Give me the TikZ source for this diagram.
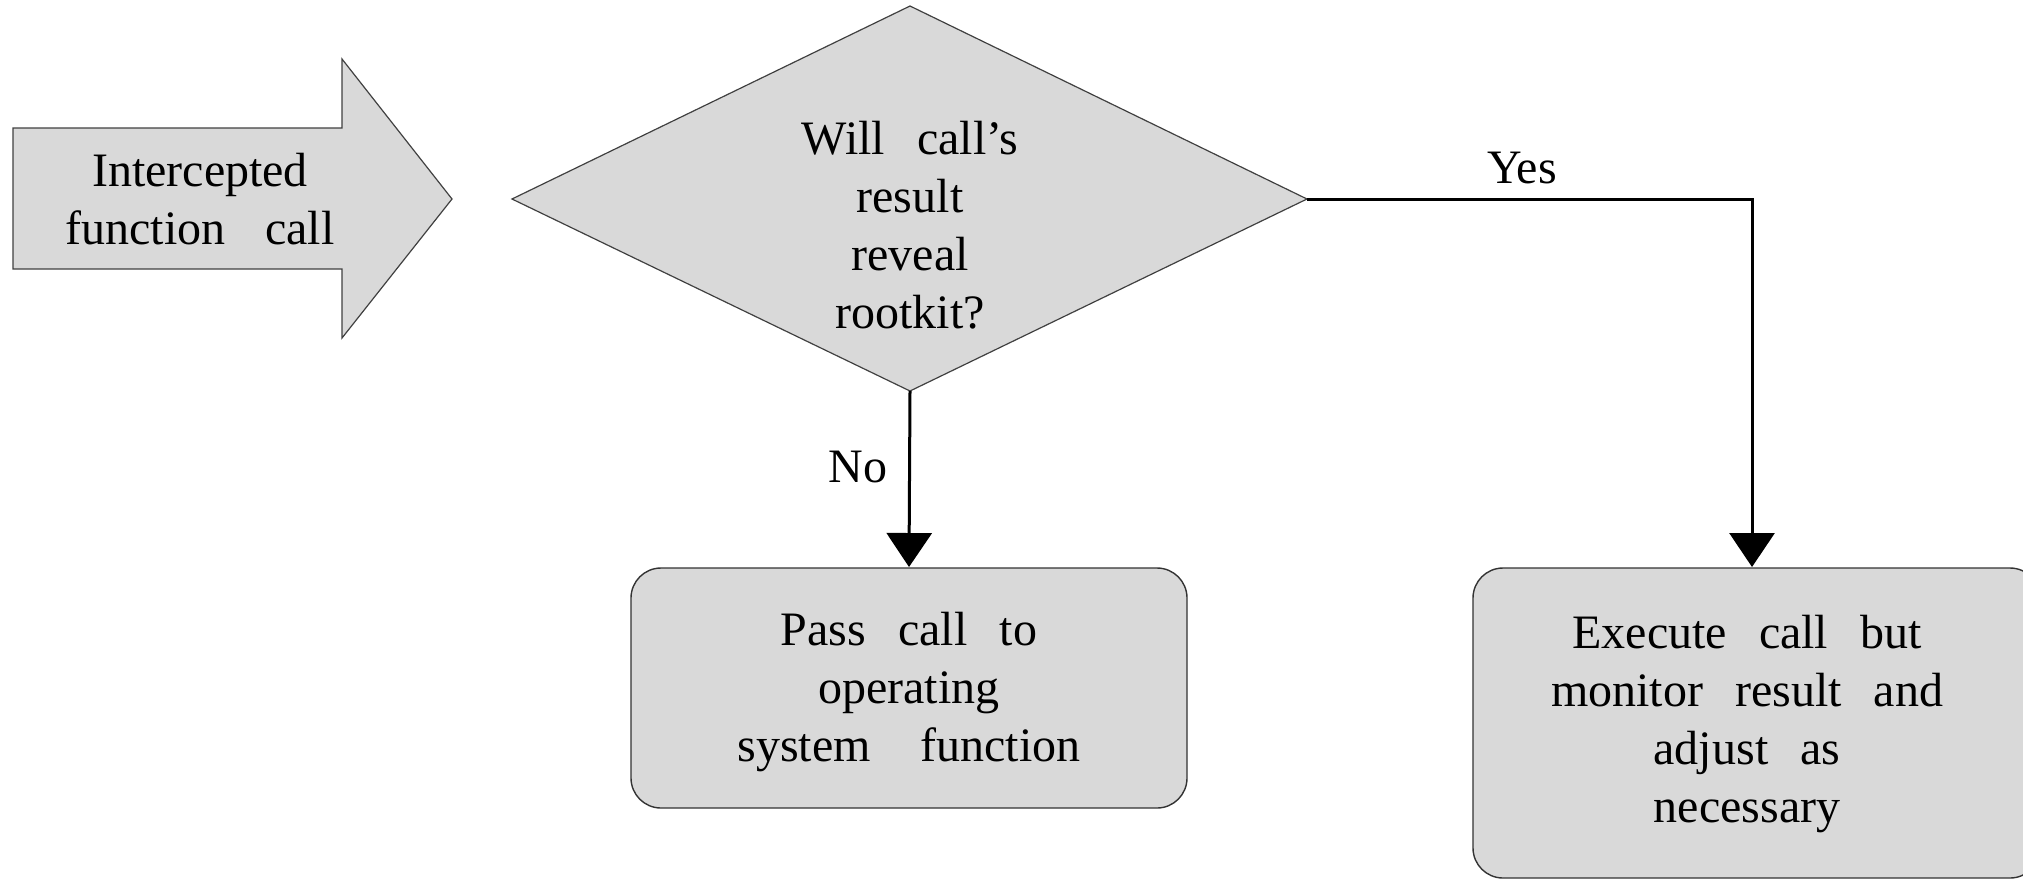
\documentclass[tikz,border=0pt]{standalone}
\usepackage{fontspec}
\setmainfont{Liberation Serif}
\newfontfamily\lblfont[WordSpace={2.67,0,0}]{Liberation Serif}
\usetikzlibrary{arrows.meta}
\begin{document}
\begin{tikzpicture}[x=0.5pt,y=-0.5pt,
  shapefill/.style={fill=boxgray,draw=edgegray,line width=0.6pt,line join=miter},
  roundbox/.style={fill=boxgray,draw=black!80,line width=0.7pt,rounded corners=15pt},
  label/.style={font=\lblfont\fontsize{24}{29}\selectfont,align=center,inner sep=0pt},
  flow/.style={line width=1.5pt,-{Triangle[length=17pt,width=22.5pt]}}]
\definecolor{boxgray}{RGB}{217,217,217}
\definecolor{edgegray}{RGB}{64,64,64}
\useasboundingbox (0,0) rectangle (2023,880);
% incoming block arrow
\path[shapefill] (13,128) -- (342,128) -- (342,59) -- (452,199) -- (342,338) -- (342,269) -- (13,269) -- cycle;
\node[label] (start) at (200,199) {Intercepted\\function\hspace{20pt}call};
% decision diamond
\path[shapefill] (512,199) -- (910,6) -- (1307,199) -- (910,391) -- cycle;
\coordinate (decS) at (910,391);
\coordinate (decE) at (1307,199);
\node[label] (dec) at (910,225) {Will call’s\\result\\reveal\\rootkit?};
% outcome boxes
\draw[roundbox] (631,568) rectangle (1187,808);
\node[label] (pass) at (909,692) {Pass call to\\operating\\system\hspace{25pt}function};
\coordinate (passN) at (909,567);
\draw[roundbox] (1473,568) rectangle (2040,878);
\node[label] (exec) at (1747,724) {Execute call but\\monitor result and\\adjust as\\necessary};
\coordinate (execN) at (1752,567);
% connectors
\draw[flow] (decS) -- (passN);
\node[label] (no) at (858,467) {No};
\draw[flow] (decE) -- (decE -| execN) -- (execN);
\node[label] (yes) at (1522,168) {Yes};
\end{tikzpicture}
\end{document}
